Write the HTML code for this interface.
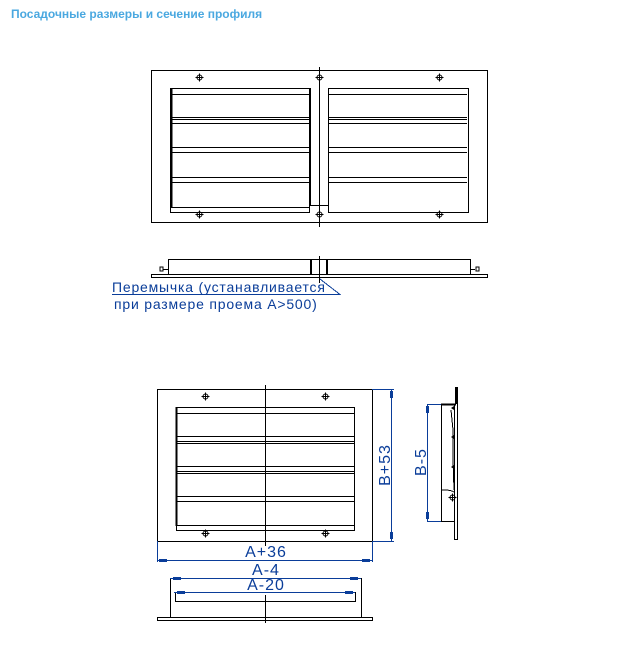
<!DOCTYPE html>
<html><head><meta charset="utf-8"><style>
html,body{margin:0;padding:0;background:#fff;width:627px;height:669px;overflow:hidden}
.t{position:absolute;left:11px;top:7px;font:bold 12px "Liberation Sans",sans-serif;color:#4aa8e0}
</style></head><body>
<div class="t">Посадочные размеры и сечение профиля</div>
<svg width="627" height="669" style="position:absolute;left:0;top:0" xmlns="http://www.w3.org/2000/svg">
<defs>
<g id="scr" stroke="#000" stroke-width="1" fill="none"><circle r="2.5"/><path d="M-4 0H4M0 -4V4"/></g>
</defs>
<g stroke="#000" stroke-width="1" fill="none" shape-rendering="crispEdges">
<rect x="151.5" y="70.5" width="336" height="152"/>
<path d="M319.5 67V227"/>
<rect x="170.5" y="88.5" width="139" height="124"/>
<rect x="328.5" y="88.5" width="140" height="124"/>
<path d="M310.5 88V205M310 205.5H328M170.5 88V207" />
<path d="M171 207.5H309" />
<g id="sl">
<path d="M171 94.5H309M171 117.5H309M171 119.5H309M171 123.5H309M171 147.5H309M171 152.5H309M171 177.5H309M171 182.5H309"/>
</g>
<use href="#sl" x="158"/>
<path d="M171.5 88V207" stroke-width="2"/>
<path d="M168.5 259V274M470.5 259V274M168 259.5H471"/>
<rect x="151.5" y="274.5" width="336" height="3"/>
<path d="M311 259V275M327 259V275" stroke-width="2"/>
<path d="M319.5 256V283M310 259.5H328"/>
<path d="M163 269.5H168M160 267h3v4h-3zM470 269.5H475M476 267h3v4h-3z"/>
<rect x="157.5" y="389.5" width="215" height="152"/>
<path d="M265.5 385V546"/>
<rect x="176.5" y="407.5" width="178" height="123"/>
<path d="M176 413.5H355M176 436.5H355M176 441.5H355M176 443.5H355M176 466.5H355M176 471.5H355M176 473.5H355M176 496.5H355M176 501.5H355M176 525.5H355"/>
<path d="M176.5 407V526" stroke-width="2"/>
<path d="M175.5 592V601M355.5 592V601M175 601.5H356M170.5 578V617M361.5 578V617"/>
<rect x="157.5" y="617.5" width="215" height="3"/>
<path d="M265.5 595V623"/>
<path d="M441.5 404V521M441 521.5H455M454.5 404V540M454 539.5H458M457.5 387V539"/>
<path d="M441 404.5H456" stroke-width="2"/>
<path d="M456.5 387V404" stroke-width="3"/>
<path d="M441 490c6 0 10 0 13 2M451 410l2 20l0 30l1 30"/>
</g>
<g fill="none" stroke="#000">
<use href="#scr" x="199.5" y="77.5"/><use href="#scr" x="319.5" y="77.5"/><use href="#scr" x="439.5" y="77.5"/>
<use href="#scr" x="199.5" y="214.5"/><use href="#scr" x="319.5" y="214.5"/><use href="#scr" x="439.5" y="214.5"/>
<use href="#scr" x="205.5" y="396.5"/><use href="#scr" x="325.5" y="396.5"/>
<use href="#scr" x="205.5" y="533.5"/><use href="#scr" x="325.5" y="533.5"/>
<use href="#scr" x="452.5" y="497.5"/>
</g>
<g fill="#000"><path d="M451 408l3 -2v4zM451 437l3 -2v4zM451 467l3 -2v4z"/></g>
<g stroke="#0a3d99" stroke-width="1" fill="none" shape-rendering="crispEdges">
<path d="M112 294.5H340L320 279"/>
<path d="M372 389.5H394M372 541.5H394M391.5 389V541"/>
<path d="M157.5 541V562M372.5 541V562M157 560.5H373"/>
<path d="M170 578.5H361M174 592.5H355"/>
<path d="M427 404.5H441M427 521.5H441M427.5 404V521"/>
</g>
<g fill="#0a3d99">
<rect x="390" y="391" width="3" height="7"/><rect x="390" y="532" width="3" height="7"/>
<rect x="159" y="559" width="8" height="3"/><rect x="362" y="559" width="8" height="3"/>
<rect x="173" y="577" width="8" height="3"/><rect x="350" y="577" width="8" height="3"/>
<rect x="177" y="591" width="8" height="3"/><rect x="345" y="591" width="8" height="3"/>
<rect x="426" y="406" width="3" height="7"/><rect x="426" y="512" width="3" height="7"/>
</g>
<g font-family="Liberation Sans,sans-serif" font-size="14" fill="#0a3d99">
<text x="112" y="292" letter-spacing="0.8">Перемычка (устанавливается</text>
<text x="114" y="309" letter-spacing="0.8">при размере проема А&gt;500)</text>
<g font-size="16" letter-spacing="1">
<text x="266" y="557" text-anchor="middle">A+36</text>
<text x="266" y="575" text-anchor="middle">A-4</text>
<text x="266" y="590" text-anchor="middle">A-20</text>
<text transform="translate(390,465) rotate(-90)" text-anchor="middle">B+53</text>
<text transform="translate(426,462) rotate(-90)" text-anchor="middle">B-5</text>
</g>
</g>
</svg>
</body></html>
